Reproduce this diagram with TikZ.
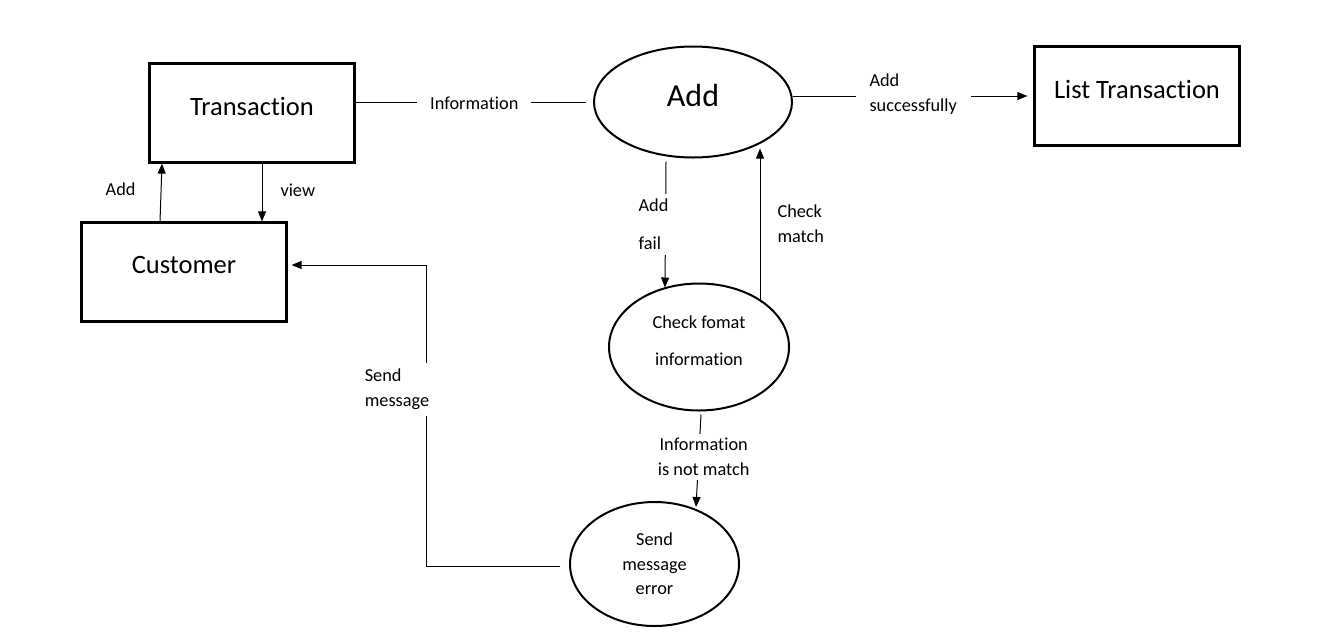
\documentclass[tikz,border=0pt]{standalone}
\usepackage{fontspec}
\setmainfont[Ligatures={NoCommon}]{Carlito}
\usetikzlibrary{shapes.geometric,arrows.meta,calc}
\begin{document}
\begin{tikzpicture}[x=1pt,y=-1pt,
  box/.style={draw,line width=2.2pt,minimum width=205pt,minimum height=99pt,inner sep=0pt},
  proc/.style={draw,ellipse,line width=2pt,inner sep=0pt},
  big/.style={font=\fontsize{26.5}{30}\selectfont,inner sep=0pt},
  lbl/.style={font=\fontsize{18.3}{25}\selectfont,align=left,inner sep=0pt},
  flow/.style={line width=1pt},
  arr/.style={flow,-{Triangle[length=10pt,width=8pt]}}]
\useasboundingbox[fill=white] (0,0) rectangle (1332,638);

% stores / entities
\node[box,label={[big,yshift=7pt]center:Transaction}] (trans) at (252,113) {};
\node[box,label={[big,yshift=7pt]center:Customer}] (cust) at (184,272) {};
\node[box,label={[big,yshift=7pt]center:List Transaction}] (list) at (1137,96) {};

% processes
\node[proc,minimum width=198pt,minimum height=111pt,
      label={[font=\fontsize{32}{36}\selectfont,inner sep=0pt,yshift=7pt]center:Add}] (add) at (693,102) {};
\node[proc,minimum width=180pt,minimum height=127pt,
      label={[lbl,align=center,yshift=6.5pt]center:Check fomat\\[12pt]information}] (chk) at (699,347) {};
\node[proc,minimum width=169pt,minimum height=124pt,
      label={[lbl,align=center,font=\fontsize{18.3}{24.5}\selectfont]center:Send\\message\\error}] (err) at (654.5,564) {};

% flows
\draw[flow,shorten >=7pt] (trans.east |- add.west) --
  node[lbl,fill=white,inner xsep=13pt,inner ysep=3pt,yshift=-1pt]{Information} (add.west);

\draw[arr,shorten >=6pt] (add.east |- list.west) --
  node[lbl,fill=white,inner xsep=14pt,inner ysep=2pt,yshift=1.5pt]{Add\\successfully} (list.west);

\draw[arr] ($(trans.south)+(10,0)$) --
  node[lbl,right=18pt,yshift=2pt]{view} ($(cust.north)+(78,0)$);

\draw[arr] ($(cust.north)+(-24,0)$) --
  node[lbl,left=25pt,yshift=3pt]{Add} ($(trans.south)+(-90,0)$);

\draw[arr] ($(add.south)+(-27,3)$) --
  node[lbl,fill=white,xshift=-12pt,inner xsep=2pt,inner ysep=5pt]{Add\\[13pt]fail} ($(chk.north)+(-34,5)$);

\draw[arr] ($(chk.north)+(61,19)$) --
  node[lbl,right=17pt,yshift=1pt]{Check\\match} ($(add.south)+(67,-10)$);

\draw[arr] ($(chk.south)+(2,3)$) --
  node[lbl,align=center,fill=white,pos=0.46,xshift=5pt,inner xsep=2pt,inner ysep=4pt]{Information\\is not match} ($(err.north)+(41.5,6)$);

\draw[arr] ($(err.west)+(-9,2)$) -- ++(-134,0) |-
  node[lbl,fill=white,pos=0.293,xshift=-29pt,inner xsep=2pt,inner ysep=6pt]{Send\\message} ($(cust.east)+(4,-7)$);
\end{tikzpicture}
\end{document}
